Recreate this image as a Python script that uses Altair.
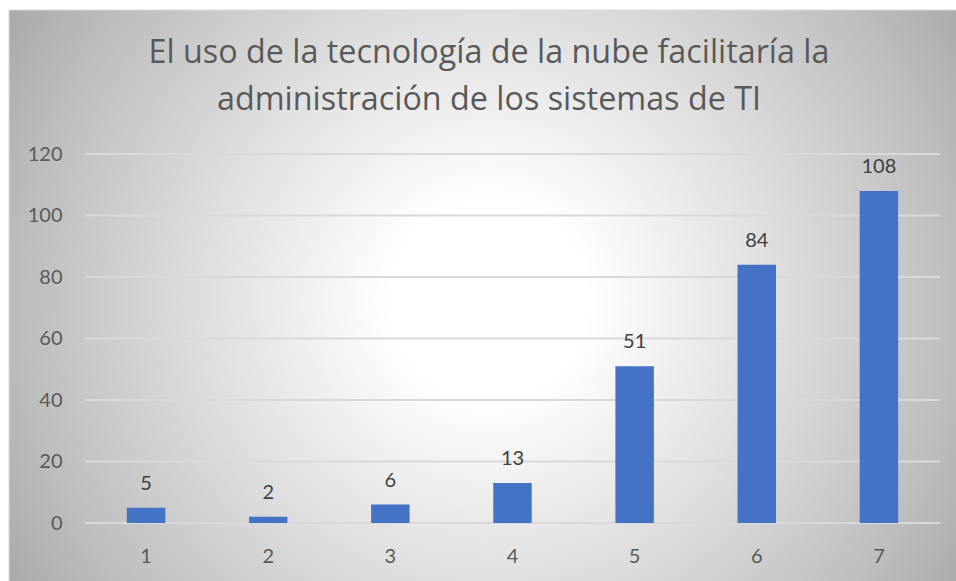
import altair as alt
import pandas as pd

# Survey answers (scale 1-7) and how many respondents chose each one
categories = ["1", "2", "3", "4", "5", "6", "7"]
counts = [5, 2, 6, 13, 51, 84, 108]
y_ticks = [0, 20, 40, 60, 80, 100, 120]
title_lines = [
    "El uso de la tecnología de la nube facilitaría la",
    "administración de los sistemas de TI",
]

bars_df = pd.DataFrame({"respuesta": categories, "frecuencia": counts})
grid_df = pd.DataFrame({"valor": y_ticks})
panel_df = pd.DataFrame({"panel": [0]})

W, H = 855, 369
PAD = {"left": 85, "top": 154, "right": 16, "bottom": 58}
FONT = "Lato"
TITLE_FONT = "Open Sans"
BAR_BLUE = "#4472C4"
GRID = "#d9d9d9"

x_scale = alt.Scale(domain=categories, paddingInner=0.685, paddingOuter=0.3425)
y_scale = alt.Scale(domain=[0, 120], nice=False)

x_axis = alt.Axis(
    title=None, domain=False, ticks=False, tickSize=0, grid=False,
    labelAngle=0, labelFont=FONT, labelFontSize=20, labelColor="#595959",
    labelBaseline="alphabetic", labelPadding=39, zindex=1,
)
y_axis = alt.Axis(
    title=None, domain=False, ticks=False, tickSize=0, grid=False,
    values=y_ticks, labelFont=FONT, labelFontSize=20, labelColor="#595959",
    labelPadding=23, zindex=1,
)

# radial white-to-grey fill behind the whole chart
panel_fill = alt.RadialGradient(
    gradient="radial",
    x1=0.5, y1=0.5, r1=0,
    x2=0.5, y2=0.5, r2=0.6,
    stops=[
        alt.GradientStop(offset=0.0, color="#ffffff"),
        alt.GradientStop(offset=0.17, color="#ffffff"),
        alt.GradientStop(offset=0.5, color="#dedede"),
        alt.GradientStop(offset=0.81, color="#bdbdbd"),
        alt.GradientStop(offset=0.96, color="#ababab"),
        alt.GradientStop(offset=1.0, color="#a8a8a8"),
    ],
)

background = alt.Chart(panel_df).mark_rect(
    fill=panel_fill, stroke=GRID, strokeWidth=1
).encode(
    x=alt.value(-76), x2=alt.value(884), y=alt.value(-144), y2=alt.value(436)
)

# two-line chart heading, centred over the chart frame
heading = alt.Chart(panel_df).mark_text(
    text=title_lines,
    font=TITLE_FONT,
    fontSize=32.3,
    color="#595959",
    align="center",
    baseline="alphabetic",
    lineHeight=47,
).encode(x=alt.value(404), y=alt.value(-91))

grid = alt.Chart(grid_df).mark_rule(color=GRID, strokeWidth=2).encode(
    y=alt.Y("valor:Q", scale=y_scale, axis=y_axis),
    x=alt.value(0),
    x2=alt.value(W),
)

bars = alt.Chart(bars_df).mark_bar(color=BAR_BLUE).encode(
    x=alt.X("respuesta:N", scale=x_scale, sort=categories, axis=x_axis),
    y=alt.Y("frecuencia:Q", scale=y_scale, axis=y_axis),
)

labels = alt.Chart(bars_df).mark_text(
    dy=-18, baseline="alphabetic", font=FONT, fontSize=20, color="#404040"
).encode(
    x=alt.X("respuesta:N", scale=x_scale, sort=categories, axis=x_axis),
    y=alt.Y("frecuencia:Q", scale=y_scale, axis=y_axis),
    text=alt.Text("frecuencia:Q"),
)

chart = alt.layer(background, heading, grid, bars, labels).properties(
    width=W,
    height=H,
    padding=PAD,
    autosize=alt.AutoSizeParams(type="none"),
    background="white",
).configure_view(stroke=None)

chart.save("out.html", embed_options={"renderer": "svg", "actions": False})
